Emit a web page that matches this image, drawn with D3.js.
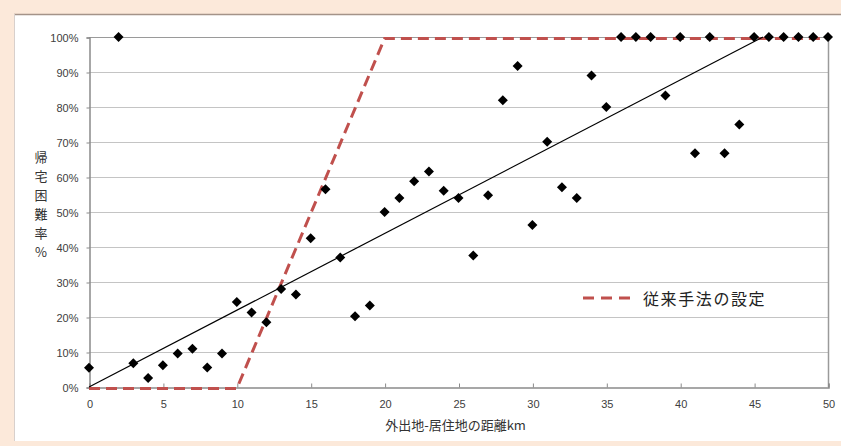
<!DOCTYPE html>
<html><head><meta charset="utf-8">
<script src="https://cdn.jsdelivr.net/npm/d3@7"></script>
<style>
html,body{margin:0;padding:0;background:#fce9da;}
svg{display:block;}
</style></head>
<body>
<svg id="chart" width="841" height="446"></svg>
<script>
// ---- data ----
const distances = [0,2,3,4,5,6,7,8,9,10,11,12,13,14,15,16,17,18,19,20,21,22,23,24,25,26,27,28,29,30,31,32,33,34,35,36,37,38,39,40,41,42,43,44,45,46,47,48,49,50];
const rates =     [5.5,100,6.8,2.6,6.2,9.6,10.9,5.6,9.6,24.3,21.3,18.5,28,26.4,42.5,56.5,37,20.2,23.3,50,54,58.8,61.6,56.1,54,37.6,54.8,81.9,91.7,46.3,70.1,57.1,54,89,80,100,100,100,83.3,100,66.8,100,66.8,75,100,100,100,100,100,100];
const trendX = [0, 45.6];
const trendY = [0, 100];
const conventionalX = [0, 10, 20, 50];
const conventionalY = [0, 0, 100, 100];
const xTicks = [0,5,10,15,20,25,30,35,40,45,50];
const yTicks = [0,10,20,30,40,50,60,70,80,90,100];
const yTitle = "帰宅困難率%";
const xTitle = "外出地-居住地の距離km";
const legendLabel = "従来手法の設定";

const svg = d3.select("#chart");
// panel
svg.append("rect").attr("x",14).attr("y",14).attr("width",840).attr("height",427).attr("fill","#ffffff");
svg.append("line").attr("x1",14).attr("x2",841).attr("y1",14.5).attr("y2",14.5).attr("stroke","#a49389").attr("stroke-width",1.5);
svg.append("line").attr("x1",14.5).attr("x2",14.5).attr("y1",14).attr("y2",441).attr("stroke","#d8d0cc").attr("stroke-width",1);

const L=89, R=828, T=37, B=387;
const x = d3.scaleLinear().domain([0,50]).range([L,R]);
const y = d3.scaleLinear().domain([0,100]).range([B,T]);
const JP = "'Noto Sans CJK JP','Noto Sans',sans-serif";
const LAT = "'Liberation Sans',Arial,sans-serif";

// gridlines
svg.append("g").selectAll("line").data(yTicks.filter(d=>d>0)).join("line")
  .attr("x1",L).attr("x2",R).attr("y1",d=>Math.round(y(d))+0.5).attr("y2",d=>Math.round(y(d))+0.5)
  .attr("stroke",d=>d===100?"#9a9a9a":"#c4c4c4").attr("stroke-width",1);

// right border
svg.append("line").attr("x1",R+0.5).attr("x2",R+0.5).attr("y1",T).attr("y2",B).attr("stroke","#9a9a9a").attr("stroke-width",1.5);

// axes
const yAxis = d3.axisLeft(y).tickValues(yTicks).tickFormat(d=>d+"%").tickSize(3).tickPadding(8);
const gy = svg.append("g").attr("transform",`translate(${L+0.5},0.5)`).call(yAxis);
gy.select(".domain").attr("stroke","#8a8a8a").attr("stroke-width",1.5);
gy.selectAll(".tick line").attr("stroke","#8a8a8a");
gy.selectAll("text").attr("font-family",LAT).attr("font-size",11).attr("fill","#404040");

const xAxis = d3.axisBottom(x).tickValues(xTicks).tickSize(-4).tickPadding(13);
const gx = svg.append("g").attr("transform",`translate(0.5,${B+0.5})`).call(xAxis);
gx.select(".domain").attr("stroke","#8a8a8a").attr("stroke-width",1.5);
gx.selectAll(".tick line").attr("stroke","#8a8a8a");
gx.selectAll("text").attr("font-family",LAT).attr("font-size",11).attr("fill","#404040");

// conventional (dashed red)
const line = d3.line().x(d=>x(d[0])).y(d=>y(d[1]));
svg.append("path").datum(conventionalX.map((v,i)=>[v,conventionalY[i]]))
  .attr("d",line).attr("fill","none").attr("stroke","#c0504d").attr("stroke-width",3)
  .attr("stroke-dasharray","11,6").attr("transform","translate(0,1.5)");

// trend line
svg.append("path").datum(trendX.map((v,i)=>[v,trendY[i]]))
  .attr("d",line).attr("fill","none").attr("stroke","#000").attr("stroke-width",1.2);

// points
const diamond = d3.symbol().type(d3.symbolDiamond2).size(64);
svg.append("g").selectAll("path").data(distances.map((v,i)=>[v,rates[i]])).join("path")
  .attr("d",diamond).attr("transform",d=>`translate(${x(d[0])},${y(d[1])})`).attr("fill","#000");

// y title (vertical stacked)
svg.append("g").selectAll("text").data(Array.from(yTitle)).join("text")
  .attr("x",41).attr("y",(d,i)=>162+i*19).attr("text-anchor","middle")
  .attr("font-family",JP).attr("font-size",13).attr("fill","#333").text(d=>d);

// x title
svg.append("text").attr("x",(L+R)/2-3).attr("y",430).attr("text-anchor","middle")
  .attr("font-family",JP).attr("font-size",13).attr("fill","#333").text(xTitle);

// legend
svg.append("line").attr("x1",583).attr("x2",631).attr("y1",298).attr("y2",298)
  .attr("stroke","#c0504d").attr("stroke-width",3).attr("stroke-dasharray","11,7");
svg.append("text").attr("x",643).attr("y",305).attr("font-family",JP).attr("font-size",16)
  .attr("letter-spacing",1.6).attr("fill","#222").text(legendLabel);
</script>
</body></html>
